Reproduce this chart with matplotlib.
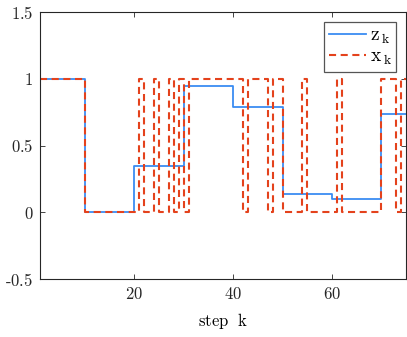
import numpy as np
import matplotlib
matplotlib.use("Agg")
import matplotlib.pyplot as plt

plt.rcParams['mathtext.fontset'] = 'cm'
plt.rcParams['font.family'] = 'DejaVu Serif'

# step index
k = np.arange(1, 76)

# z_k: estimate, changes every 10 steps
z_levels = [1.0, 0.0, 0.35, 0.95, 0.79, 0.14, 0.10, 0.735]
z_starts = [1, 10, 20, 30, 40, 50, 60, 70]

# x_k: binary sequence, given as (start step, value) runs
x_runs = [(1, 1), (10, 0), (21, 1), (22, 0), (24, 1), (25, 0), (27, 1), (28, 0),
          (29, 1), (30, 0), (31, 1), (42, 0), (43, 1), (47, 0), (48, 1), (50, 0),
          (54, 1), (55, 0), (61, 1), (62, 0), (70, 1), (73, 0), (74, 1)]

z = np.zeros(len(k))
for s, v in zip(z_starts, z_levels):
    z[k >= s] = v
x = np.zeros(len(k))
for s, v in x_runs:
    x[k >= s] = v

fig = plt.figure(figsize=(4.07, 3.37), dpi=100)
ax = fig.add_axes([0.099, 0.172, 0.899, 0.792])

ax.step(k, z, where='post', color='#3a8cf2', lw=1.3,
        label=r'$\mathrm{z}_{\,\mathrm{k}}$')
ax.step(k, x, where='post', color='#e4421c', lw=1.5, ls=(0, (3.4, 2.2)),
        label=r'$\mathrm{x}_{\,\mathrm{k}}$')

ax.set_xlim(1, 75)
ax.set_ylim(-0.5, 1.5)
ax.set_xticks([20, 40, 60])
ax.set_xticklabels([r'$20$', r'$40$', r'$60$'])
ax.set_yticks([-0.5, 0, 0.5, 1, 1.5])
ax.set_yticklabels([r'$\text{-}0.5$', r'$0$', r'$0.5$', r'$1$', r'$1.5$'])
ax.tick_params(direction='in', top=True, right=True, length=3.5, width=0.6,
               labelsize=12, colors='#262626', pad=5)
for sp in ax.spines.values():
    sp.set_linewidth(0.8)
    sp.set_color('#262626')
ax.set_xlabel(r'$\mathrm{step\ \ k}$', fontsize=12, labelpad=6)

leg = ax.legend(loc='upper right', fontsize=14, handlelength=1.9, handletextpad=0.2,
                borderpad=0.25, labelspacing=0.1, fancybox=False, framealpha=1,
                borderaxespad=0.5)
leg.get_frame().set_edgecolor('#555555')
leg.get_frame().set_linewidth(0.9)

plt.savefig('out.png', dpi=100)
